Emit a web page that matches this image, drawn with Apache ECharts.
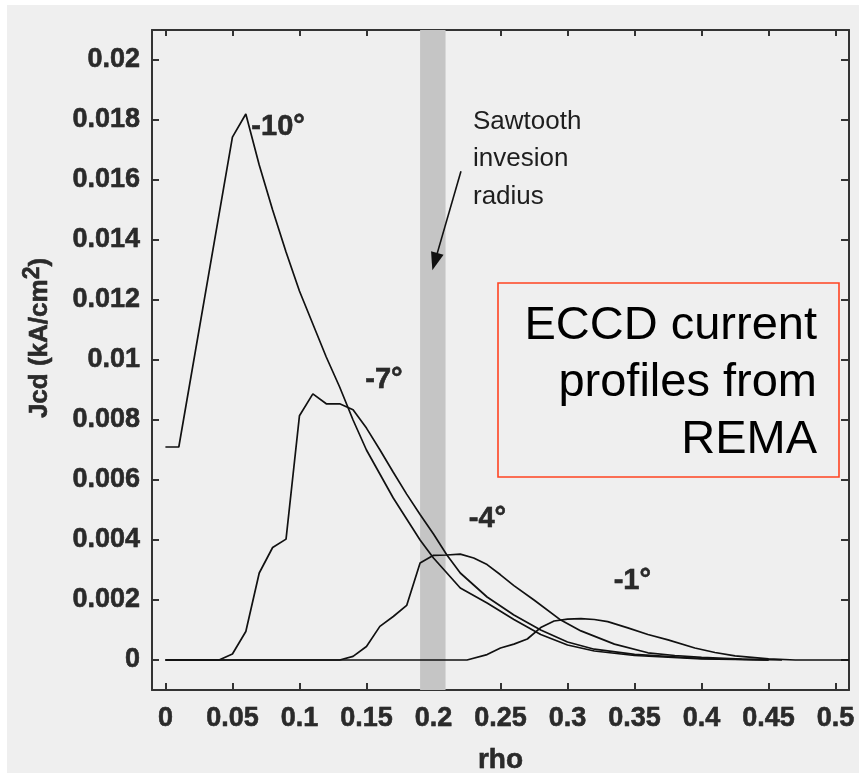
<!DOCTYPE html>
<html>
<head>
<meta charset="utf-8">
<script src="https://cdn.jsdelivr.net/npm/echarts@6/dist/echarts.min.js"></script>
<style>
html,body{margin:0;padding:0;background:#fff;}
#bg{position:absolute;left:7px;top:5px;width:852px;height:768px;background:#efefef;}
#main{position:absolute;left:0;top:0;width:859px;height:773px;}
</style>
</head>
<body>
<div id="bg"></div>
<div id="main"></div>
<script>
// ECCD current profiles (REMA), Jcd in kA/cm^2 against rho
var rho10 = [0, 0.01, 0.05, 0.06, 0.07, 0.08, 0.09, 0.10, 0.11, 0.12, 0.13, 0.14, 0.15, 0.16, 0.17, 0.18, 0.19, 0.20, 0.21, 0.22, 0.24, 0.26, 0.28, 0.30, 0.32, 0.35, 0.40, 0.45];
var jcd10 = [0.0071, 0.0071, 0.01743, 0.0182, 0.0165, 0.0150, 0.0136, 0.0123, 0.0112, 0.0101, 0.0091, 0.0080, 0.0070, 0.0062, 0.0054, 0.0047, 0.0040, 0.0034, 0.0029, 0.0024, 0.0019, 0.00135, 0.00085, 0.0005, 0.0003, 0.00015, 0.00004, 0];

var rho7 = [0, 0.04, 0.05, 0.06, 0.07, 0.08, 0.09, 0.10, 0.11, 0.12, 0.13, 0.14, 0.15, 0.16, 0.17, 0.18, 0.19, 0.20, 0.21, 0.22, 0.24, 0.26, 0.28, 0.30, 0.32, 0.35, 0.40, 0.45];
var jcd7 = [0, 0, 0.0002, 0.00095, 0.0029, 0.00375, 0.00403, 0.00814, 0.00887, 0.00854, 0.00854, 0.00834, 0.00773, 0.00701, 0.00626, 0.00553, 0.00485, 0.0042, 0.0035, 0.0029, 0.0021, 0.0015, 0.001, 0.0006, 0.00036, 0.00019, 0.00005, 0];

var rho4 = [0, 0.13, 0.14, 0.15, 0.16, 0.17, 0.18, 0.19, 0.20, 0.21, 0.22, 0.23, 0.24, 0.25, 0.26, 0.275, 0.295, 0.31, 0.335, 0.36, 0.38, 0.40, 0.43, 0.46];
var jcd4 = [0, 0, 0.00012, 0.00045, 0.00112, 0.00145, 0.00182, 0.00323, 0.00349, 0.0035, 0.00353, 0.0034, 0.00318, 0.00284, 0.00248, 0.002, 0.00133, 0.00097, 0.00053, 0.00024, 0.00015, 0.00009, 0.00003, 0];

var rho1 = [0, 0.225, 0.24, 0.25, 0.26, 0.27, 0.28, 0.29, 0.30, 0.31, 0.32, 0.33, 0.345, 0.36, 0.375, 0.395, 0.41, 0.425, 0.45, 0.47, 0.51];
var jcd1 = [0, 0, 0.00018, 0.0004, 0.00053, 0.0007, 0.00108, 0.0013, 0.00136, 0.00138, 0.00135, 0.00128, 0.00107, 0.00085, 0.00067, 0.0004, 0.00025, 0.00014, 0.00004, 0, 0];

var xTicks = [0, 0.05, 0.1, 0.15, 0.2, 0.25, 0.3, 0.35, 0.4, 0.45, 0.5];
var yTicks = [0, 0.002, 0.004, 0.006, 0.008, 0.01, 0.012, 0.014, 0.016, 0.018, 0.02];

var curveNames = ['-10°', '-7°', '-4°', '-1°'];
// where the angle labels sit (rho, Jcd)
var labelRho = [0.0841, 0.1631, 0.2403, 0.3484];
var labelJcd = [0.01776, 0.00934, 0.00471, 0.00264];

// sawtooth inversion radius band
var bandRho = [0.19, 0.209];
var arrowFrom = [0.2205, 0.01629];
var arrowTo = [0.2010, 0.01328];

function zip(xs, ys) {
    var out = [];
    for (var i = 0; i < xs.length; i++) out.push([xs[i], ys[i]]);
    return out;
}
function fmt(v) { return String(+(+v).toFixed(3)); }

var FONT = 'Liberation Sans';
var INK = '#2a2a2a';
var frame = {show: true, onZero: false, lineStyle: {color: '#333', width: 2}};

var chart = echarts.init(document.getElementById('main'));

var allX = [rho10, rho7, rho4, rho1];
var allY = [jcd10, jcd7, jcd4, jcd1];
var series = [];
for (var k = 0; k < 4; k++) {
    var s = {
        name: curveNames[k],
        type: 'line',
        data: zip(allX[k], allY[k]),
        showSymbol: false,
        symbol: 'none',
        lineStyle: {color: '#111', width: 1.7},
        z: 5,
        markPoint: {
            symbol: 'circle',
            symbolSize: 0,
            data: [{coord: [labelRho[k], labelJcd[k]], value: curveNames[k]}],
            label: {
                show: true,
                position: 'inside',
                formatter: curveNames[k],
                fontFamily: FONT,
                fontWeight: 'bold',
                fontSize: 29,
                letterSpacing: -1,
                color: INK,
                textBorderColor: '#000',
                textBorderWidth: 0.5
            }
        }
    };
    series.push(s);
}
series[0].markArea = {
    silent: true,
    itemStyle: {color: '#c5c5c5'},
    data: [[{xAxis: bandRho[0]}, {xAxis: bandRho[1]}]]
};
series[0].markLine = {
    silent: true,
    symbol: ['none', 'triangle'],
    symbolSize: [13, 18],
    lineStyle: {color: '#111', width: 1.6, type: 'solid'},
    label: {show: false},
    data: [[{coord: arrowFrom}, {coord: arrowTo}]]
};

var tickFont = {fontFamily: FONT, fontWeight: 'bold', fontSize: 27, color: INK, textBorderColor: '#000', textBorderWidth: 0.5};

var option = {
    animation: false,
    backgroundColor: 'transparent',
    grid: {left: 152, right: 10, top: 30, bottom: 83, outerBoundsMode: 'none', containLabel: false},
    xAxis: [{
        type: 'value', min: -0.01, max: 0.51,
        name: 'rho', nameLocation: 'middle', nameGap: 56,
        nameTextStyle: {fontFamily: FONT, fontWeight: 'bold', fontSize: 28, color: INK, textBorderColor: '#000', textBorderWidth: 0.5},
        axisLine: frame,
        axisTick: {show: true, inside: true, length: 7, customValues: xTicks, lineStyle: {color: '#333', width: 2}},
        axisLabel: Object.assign({customValues: xTicks, formatter: fmt, margin: 15}, tickFont),
        splitLine: {show: false}
    }, {
        type: 'value', min: -0.01, max: 0.51, position: 'top',
        axisLine: frame,
        axisTick: {show: true, inside: true, length: 6, customValues: xTicks, lineStyle: {color: '#333', width: 2}},
        axisLabel: {show: false},
        splitLine: {show: false}
    }],
    yAxis: [{
        type: 'value', min: -0.001, max: 0.021,
        axisLine: frame,
        axisTick: {show: true, inside: true, length: 7, customValues: yTicks, lineStyle: {color: '#333', width: 2}},
        axisLabel: Object.assign({customValues: yTicks, formatter: fmt, margin: 12}, tickFont),
        splitLine: {show: false}
    }, {
        type: 'value', min: -0.001, max: 0.021, position: 'right',
        axisLine: frame,
        axisTick: {show: true, inside: true, length: 8, customValues: yTicks, lineStyle: {color: '#333', width: 2}},
        axisLabel: {show: false},
        splitLine: {show: false}
    }],
    graphic: [
        {
            type: 'text', x: 40, y: 338, rotation: Math.PI / 2,
            style: {
                text: '{a|Jcd (kA/cm}{s|2}{a|)}',
                align: 'center', verticalAlign: 'middle',
                rich: {
                    a: {fontFamily: FONT, fontWeight: 'bold', fontSize: 26, fill: INK, stroke: '#000', lineWidth: 0.5, height: 34, verticalAlign: 'middle'},
                    s: {fontFamily: FONT, fontWeight: 'bold', fontSize: 23, fill: INK, stroke: '#000', lineWidth: 0.5, height: 20, verticalAlign: 'top'}
                }
            }
        },
        {
            type: 'text', x: 473, y: 103,
            style: {
                text: 'Sawtooth\ninvesion\nradius',
                font: '26px "Liberation Sans"',
                fill: '#1e1e1e', lineHeight: 37.5,
                align: 'left', verticalAlign: 'top'
            }
        },
        {
            type: 'rect',
            shape: {x: 498, y: 283, width: 341, height: 194},
            style: {fill: 'none', stroke: '#ff4422', lineWidth: 1.6}
        },
        {
            type: 'text', x: 817, y: 298,
            style: {
                text: 'ECCD current\nprofiles from\nREMA',
                font: '47px "Liberation Sans"',
                fill: '#000', lineHeight: 57,
                align: 'right', verticalAlign: 'top'
            }
        }
    ],
    series: series
};
chart.setOption(option);
</script>
</body>
</html>
